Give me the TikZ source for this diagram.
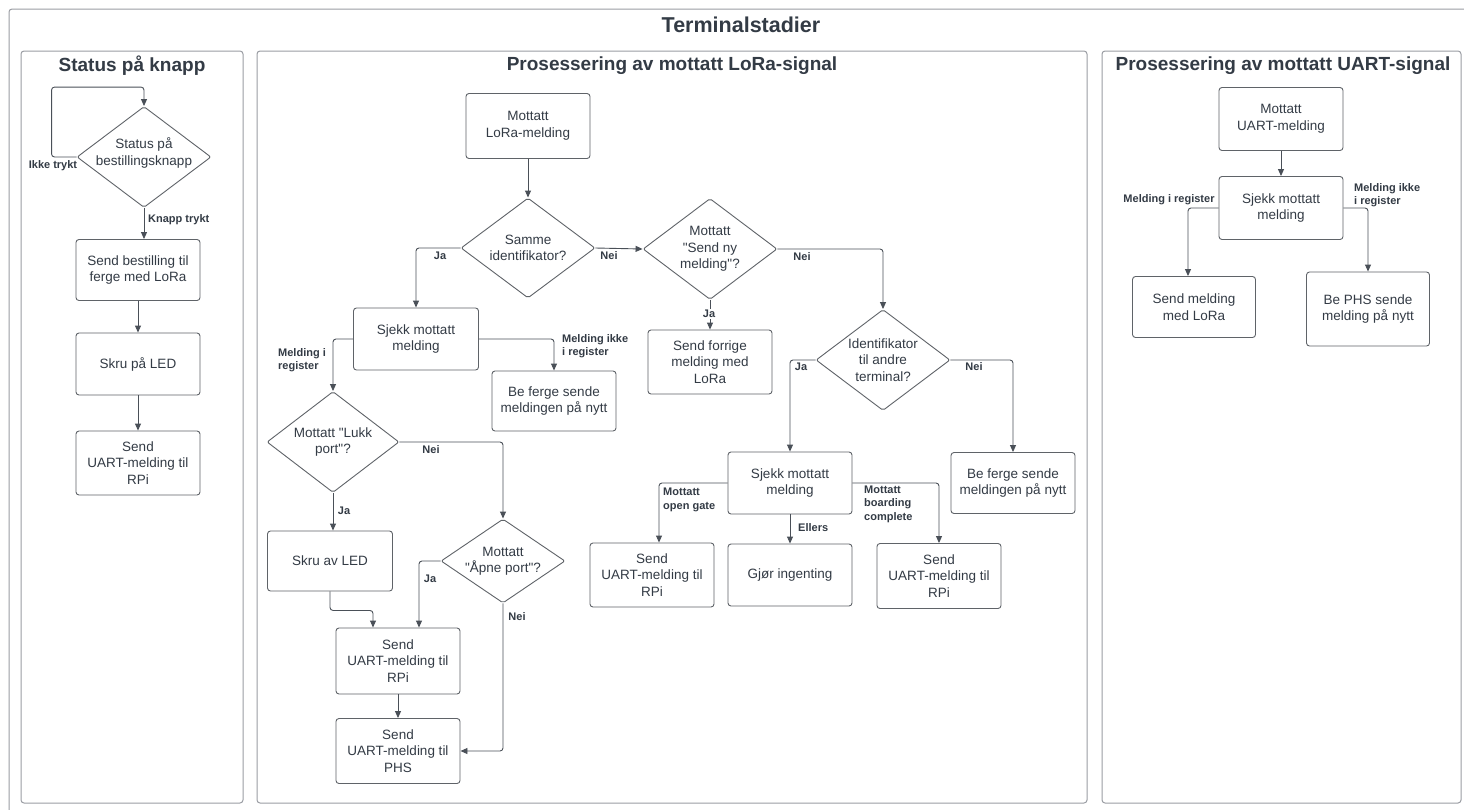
\documentclass[tikz,border=0pt]{standalone}
\usepackage{fontspec}
\setmainfont{Liberation Sans}[Ligatures=TeXOff]
\usetikzlibrary{shapes.geometric,arrows.meta}
\definecolor{txt}{HTML}{333B45}
\definecolor{framegray}{HTML}{9A9DA3}
\definecolor{boxgray}{HTML}{5F6368}
\definecolor{wire}{HTML}{4A5058}
\begin{document}
\begin{tikzpicture}[x=1pt,y=-1pt,
  frame/.style={draw=framegray,line width=1pt,rounded corners=3pt},
  box/.style={draw=boxgray,line width=0.9pt,rounded corners=3pt,fill=white,align=center,
    inner sep=0pt,text=txt,font=\fontsize{13.5}{16.5}\selectfont},
  dec/.style={diamond,draw=boxgray,line width=0.9pt,rounded corners=2pt,fill=white,inner sep=0pt},
  dtxt/.style={align=center,inner sep=0pt,text=txt,font=\fontsize{13.5}{16.5}\selectfont},
  arr/.style={draw=wire,line width=0.9pt,rounded corners=3pt,-{Triangle[length=7pt,width=6pt]}},
  lbl/.style={inner sep=0pt,text=txt,align=left,font=\bfseries\fontsize{11}{13.5}\selectfont},
  ttl/.style={inner sep=0pt,text=txt,font=\bfseries\fontsize{19}{22}\selectfont},
]
\useasboundingbox (0,0) rectangle (1464,809);
\fill[white] (0,0) rectangle (1464,809);

% outer frame and the three panels
\begin{scope}
  \clip (0,0) rectangle (1464,809);
  \draw[frame] (9,9) rectangle (1490,830);
\end{scope}
\node[inner sep=0pt,text=txt,font=\bfseries\fontsize{21.5}{24}\selectfont] (tmain) at (741,25) {Terminalstadier};
\draw[frame] (21,51) rectangle (243,803);
\draw[frame] (257,51) rectangle (1087,803);
\draw[frame] (1102,51) rectangle (1461,803);
\node[ttl] (t1) at (132,66) {Status på knapp};
\node[ttl] (t2) at (672,66) {Prosessering av mottatt LoRa-signal};
\node[ttl] (t3) at (1283,66) {Prosessering av mottatt UART-signal};

% ---- Status på knapp ----
\node[dec,minimum width=134pt,minimum height=101pt] (d1) at (144,157) {};
\node[dtxt] (d1t) at (144,153) {Status på\\bestillingsknapp};
\node[box,minimum width=124pt,minimum height=61pt] (b1) at (138,270) {Send bestilling til\\ferge med LoRa};
\node[box,minimum width=124pt,minimum height=62pt] (b2) at (138,364) {Skru på LED};
\node[box,minimum width=124pt,minimum height=64pt] (b3) at (138,463) {Send\\UART-melding til\\RPi};

\draw[arr] (d1.west) -- ++(-25,0) |- ([yshift=19pt]d1.north) -- (d1.north);
\draw[arr] (d1.south) -- (d1.south |- b1.north);
\draw[arr] (b1.south) -- (b2.north);
\draw[arr] (b2.south) -- (b3.north);
\node[lbl] (l1) at (53,166) {Ikke trykt};
\node[lbl,anchor=west] (l2) at (148,220) {Knapp trykt};

% ---- Prosessering av mottatt LoRa-signal ----
\node[box,minimum width=124pt,minimum height=65pt] (b4) at (528,126) {Mottatt\\LoRa-melding};
\node[dec,minimum width=134pt,minimum height=100pt] (d2) at (528,248) {};
\node[dtxt] (d2t) at (d2) {Samme\\identifikator?};
\node[box,minimum width=125pt,minimum height=62pt] (b5) at (416,339) {Sjekk mottatt\\melding};
\node[box,minimum width=124pt,minimum height=60pt] (b6) at (554,401) {Be ferge sende\\meldingen på nytt};
\node[dec,minimum width=132pt,minimum height=101pt] (d3) at (333,442) {};
\node[dtxt] (d3t) at (d3) {Mottatt "Lukk\\port"?};
\node[box,minimum width=125pt,minimum height=60pt] (b7) at (330,561) {Skru av LED};
\node[dec,minimum width=124pt,minimum height=84pt] (d4) at (503,561) {};
\node[dtxt] (d4t) at (d4) {Mottatt\\"Åpne port"?};
\node[box,minimum width=124pt,minimum height=66pt] (b8) at (398,661) {Send\\UART-melding til\\RPi};
\node[box,minimum width=124pt,minimum height=65pt] (b9) at (398,751) {Send\\UART-melding til\\PHS};
\node[dec,minimum width=134pt,minimum height=101pt] (d5) at (710,249) {};
\node[dtxt] (d5t) at (d5) {Mottatt\\"Send ny\\melding"?};
\node[box,minimum width=124pt,minimum height=64pt] (b10) at (710,362) {Send forrige\\melding med\\LoRa};
\node[dec,minimum width=134pt,minimum height=101pt] (d6) at (883,360) {};
\node[dtxt] (d6t) at (d6) {Identifikator\\til andre\\terminal?};
\node[box,minimum width=124pt,minimum height=62pt] (b11) at (790,483) {Sjekk mottatt\\melding};
\node[box,minimum width=124pt,minimum height=61pt] (b12) at (1013,483) {Be ferge sende\\meldingen på nytt};
\node[box,minimum width=124pt,minimum height=64pt] (b13) at (652,575) {Send\\UART-melding til\\RPi};
\node[box,minimum width=124pt,minimum height=62pt] (b14) at (790,575) {Gjør ingenting};
\node[box,minimum width=124pt,minimum height=65pt] (b15) at (939,576) {Send\\UART-melding til\\RPi};

\draw[arr] (b4.south) -- (d2.north);
\draw[arr] (d2.west) -| (b5.north);
\draw[arr] (d2.east) -- (d5.west);
\draw[arr] (b5.west) -| (d3.north);
\draw[arr] (b5.east) -| (b6.north);
\draw[arr] (d3.south) -- (d3.south |- b7.north);
\draw[arr] (d3.east) -| (d4.north);
\draw[arr] (d4.west) -| ([xshift=21pt]b8.north);
\draw[arr] (b7.south) -- ++(0,19) -| ([xshift=-25pt]b8.north);
\draw[arr] (b8.south) -- (b9.north);
\draw[arr] (d4.south) |- (b9.east);
\draw[arr] (d5.south) -- (b10.north);
\draw[arr] (d5.east) -| (d6.north);
\draw[arr] (d6.west) -| (b11.north);
\draw[arr] (d6.east) -| (b12.north);
\draw[arr] (b11.west) -| ([xshift=7pt]b13.north);
\draw[arr] (b11.south) -- (b14.north);
\draw[arr] (b11.east) -| (b15.north);

\node[lbl] (l3) at (440,256) {Ja};
\node[lbl] (l4) at (609,256) {Nei};
\node[lbl,anchor=west] (l5) at (278,360) {Melding i\\register};
\node[lbl,anchor=west] (l6) at (562,346) {Melding ikke\\i register};
\node[lbl] (l7) at (431,450) {Nei};
\node[lbl] (l8) at (344,511) {Ja};
\node[lbl] (l9) at (430,579) {Ja};
\node[lbl] (l10) at (517,617) {Nei};
\node[lbl,fill=white,inner sep=1pt] (l11) at (709,314) {Ja};
\node[lbl] (l12) at (802,257) {Nei};
\node[lbl] (l13) at (801,367) {Ja};
\node[lbl] (l14) at (974,367) {Nei};
\node[lbl,anchor=west] (l15) at (663,500) {Mottatt\\open gate};
\node[lbl,anchor=west] (l16) at (798,528) {Ellers};
\node[lbl,anchor=west] (l17) at (864,504) {Mottatt\\boarding\\complete};

% ---- Prosessering av mottatt UART-signal ----
\node[box,minimum width=124pt,minimum height=63pt] (b16) at (1281,119) {Mottatt\\UART-melding};
\node[box,minimum width=124pt,minimum height=63pt] (b17) at (1281,208) {Sjekk mottatt\\melding};
\node[box,minimum width=123pt,minimum height=61pt] (b18) at (1194,307) {Send melding\\med LoRa};
\node[box,minimum width=123pt,minimum height=74pt] (b19) at (1368,309) {Be PHS sende\\melding på nytt};

\draw[arr] (b16.south) -- (b17.north);
\draw[arr] (b17.west) -| ([xshift=-6pt]b18.north);
\draw[arr] (b17.east) -| (b19.north);
\node[lbl] (l18) at (1169,200) {Melding i register};
\node[lbl,anchor=west] (l19) at (1354,195) {Melding ikke\\i register};
\end{tikzpicture}
\end{document}
